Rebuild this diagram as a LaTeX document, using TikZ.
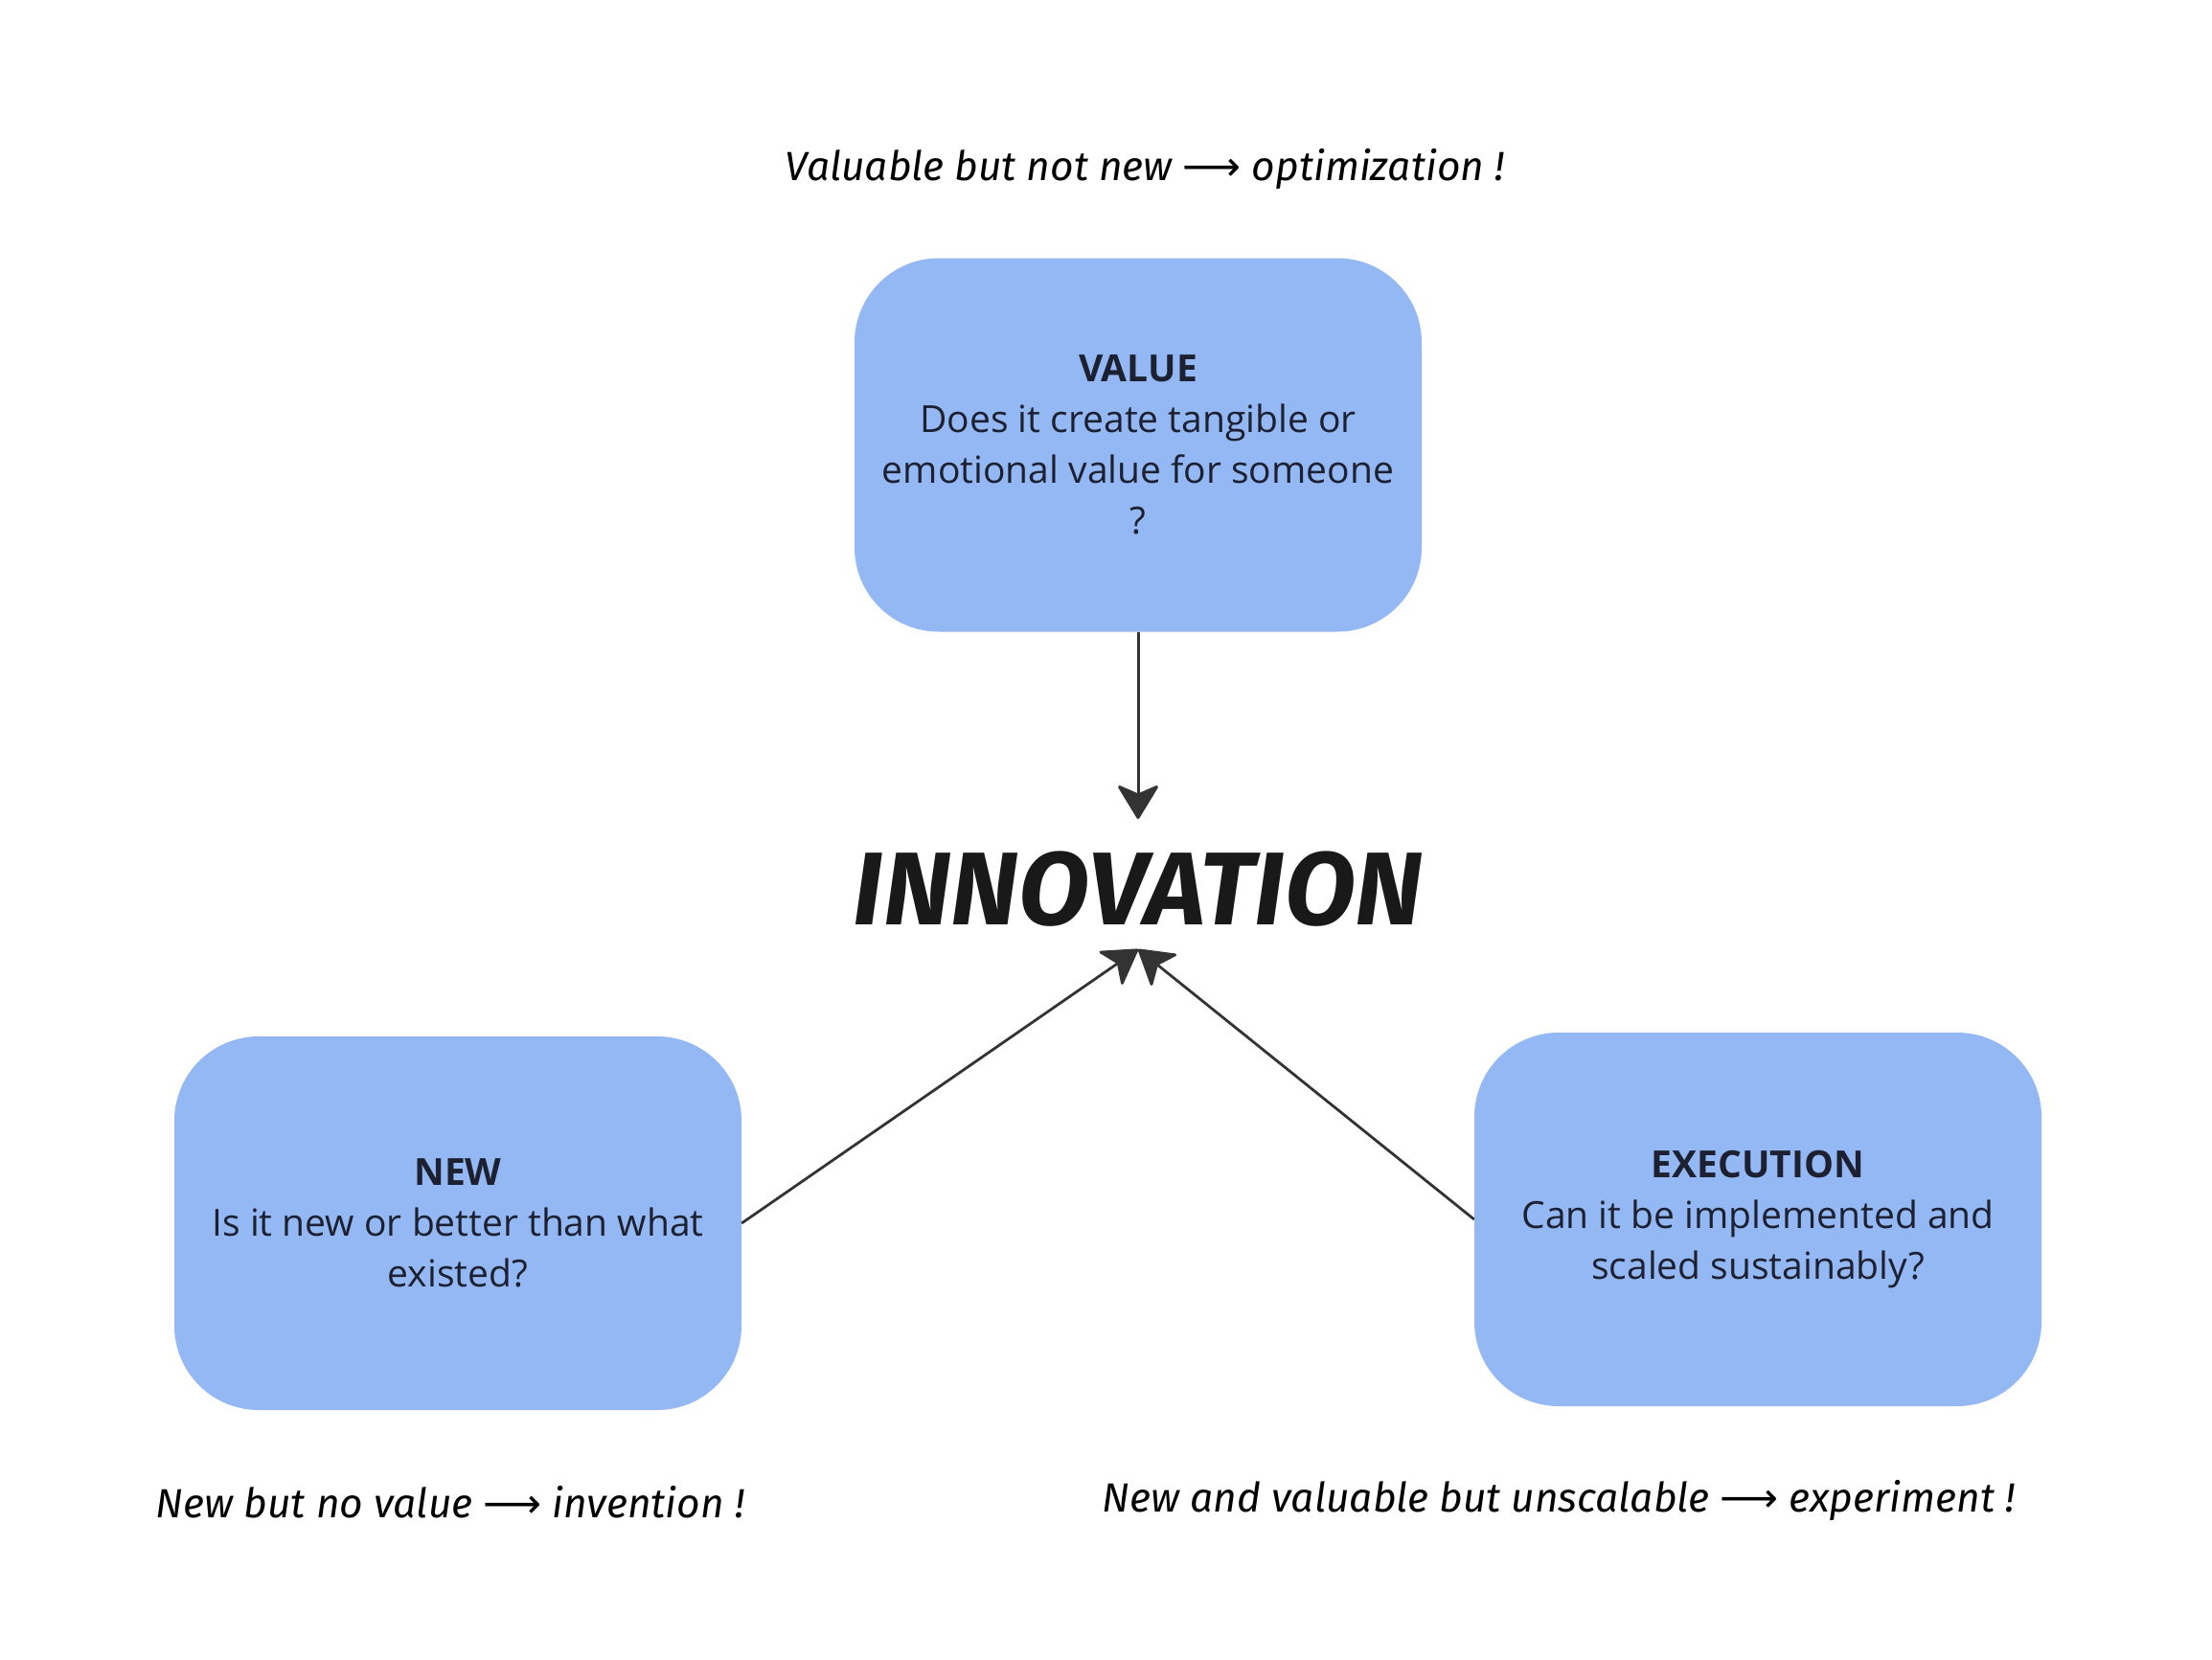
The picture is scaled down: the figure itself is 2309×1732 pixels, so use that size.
\documentclass[tikz,border=0pt]{standalone}
\usepackage{fontspec}
\setmainfont{Open Sans}
\newfontfamily\hand{Fira Sans}
\newfontfamily\arrfont{DejaVu Sans}
\usetikzlibrary{arrows.meta}
\definecolor{boxblue}{HTML}{93B8F4}
\definecolor{ink}{HTML}{1C2030}
\definecolor{arr}{HTML}{333333}
\newcommand{\harr}{{\arrfont\symbol{"27F6}}}
\begin{document}
\begin{tikzpicture}[x=1pt,y=-1pt,
  qbox/.style={fill=boxblue, rounded corners=88pt, minimum width=592pt, minimum height=390pt,
    align=center, text=ink, font=\fontsize{39}{53}\selectfont, inner sep=0pt},
  note/.style={font=\hand\itshape\fontsize{42.5}{50}\selectfont, text=black, anchor=center},
  conn/.style={draw=arr, line width=3pt, -{Stealth[length=38pt,width=46pt,inset=10pt,round]}}]
\path[use as bounding box, fill=white] (0,0) rectangle (2309,1732);
\node[qbox] (value) at (1188,464.5) {{\bfseries VALUE}\\Does it create tangible or\\emotional value for someone\\?};
\node[qbox] (new) at (478,1277) {{\bfseries NEW}\\Is it new or better than what\\existed?};
\node[qbox] (exec) at (1835,1273) {{\bfseries EXECUTION}\\Can it be implemented and\\scaled sustainably?};
\node[font=\hand\bfseries\itshape\fontsize{108}{108}\selectfont, text=black!90] (innov) at (1188,928) {INNOVATION};
\coordinate (innTop) at (1188,855);
\coordinate (innBot) at (1188,991);
\draw[conn] (value.south) -- (innTop);
\draw[conn, line width=2.8pt] (new.east) -- (innBot);
\draw[conn, line width=2.8pt] (exec.west) -- (innBot);
\node[note] (n1) at (1195,177) {Valuable but not new \harr{} optimization !};
\node[note] (n2) at (470,1568) {New but no value \harr{} invention !};
\node[note] (n3) at (1627,1566) {New and valuable but unscalable \harr{} experiment !};
\end{tikzpicture}
\end{document}
